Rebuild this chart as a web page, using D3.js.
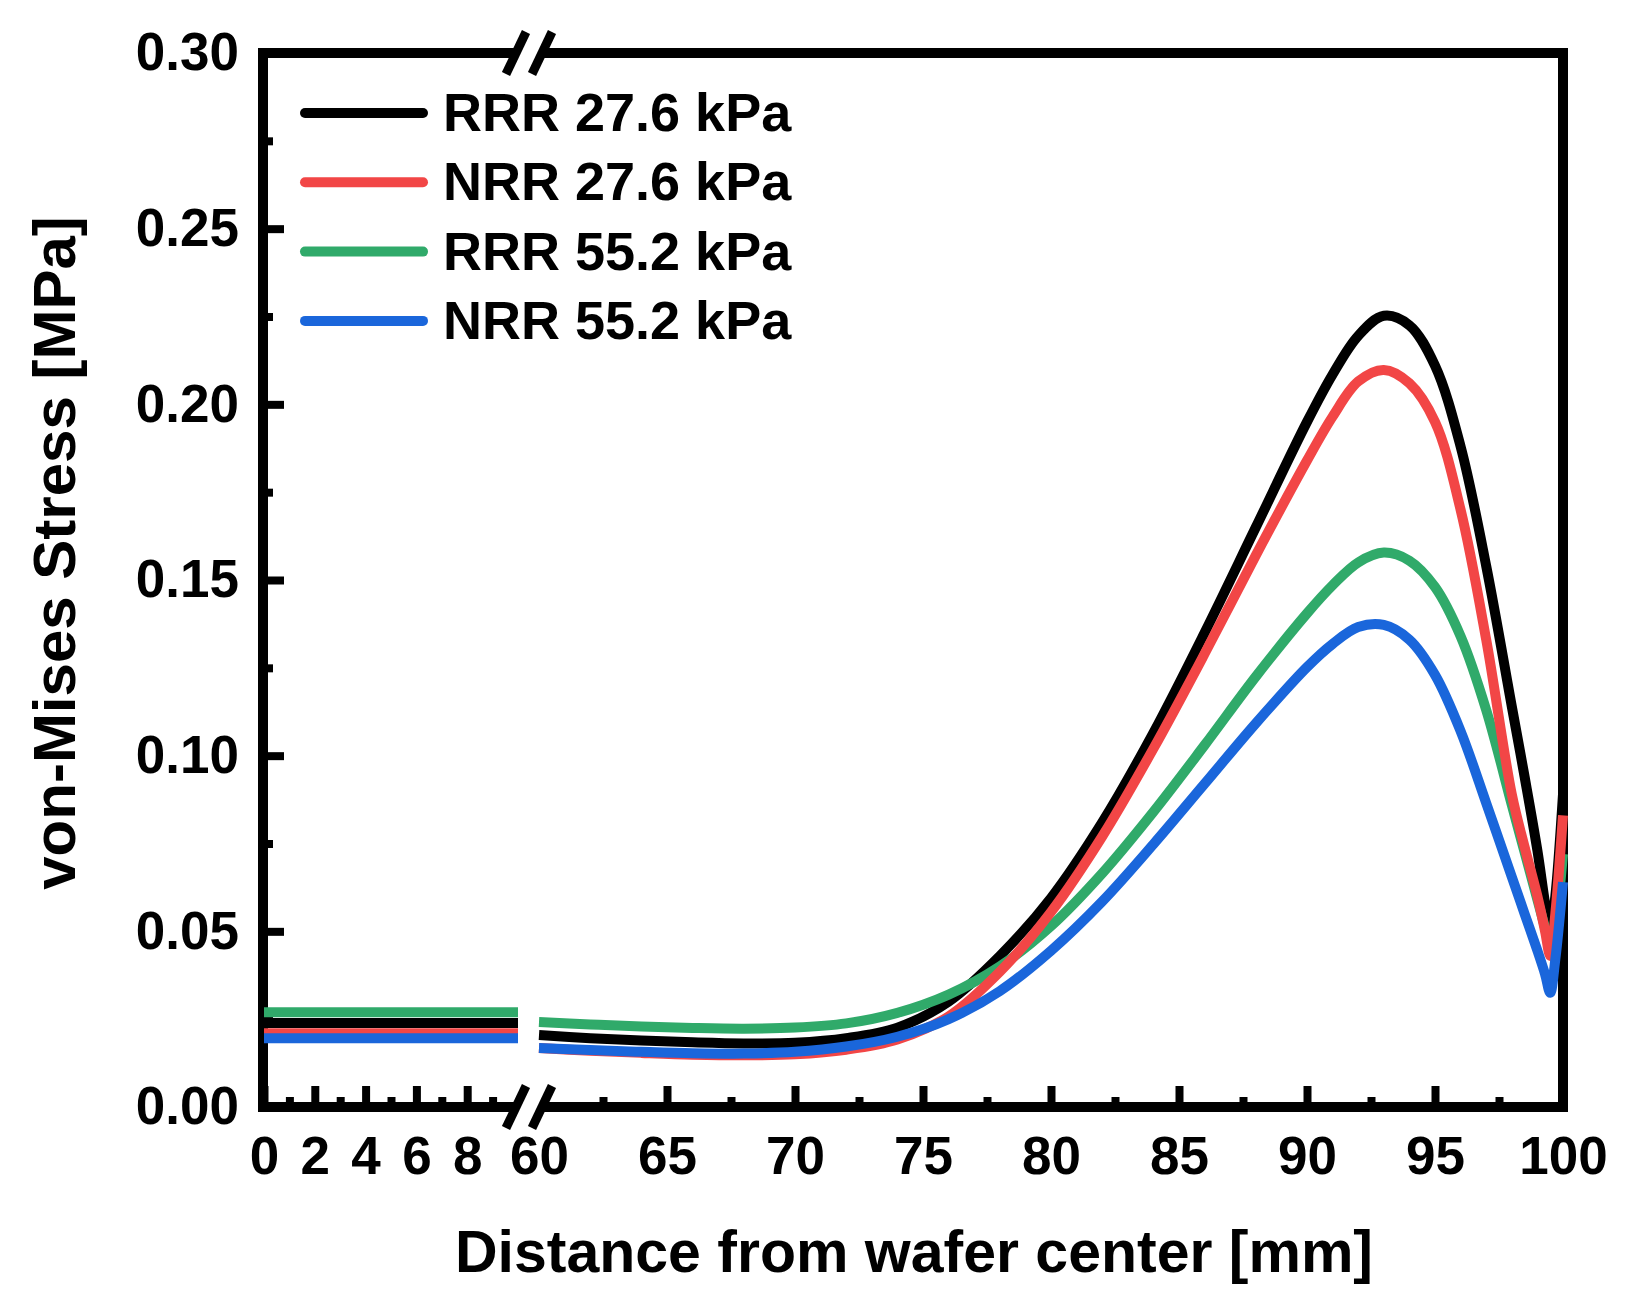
<!DOCTYPE html>
<html>
<head>
<meta charset="utf-8">
<script src="https://cdn.jsdelivr.net/npm/d3@7"></script>
<style>
  body { margin: 0; background: #fff; }
  text { font-family: "Liberation Sans", Arial, sans-serif; font-weight: bold; fill: #000; }
</style>
</head>
<body>
<div id="chart"></div>
<script>
// series names (legend order) and colours
var seriesNames = ["RRR 27.6 kPa", "NRR 27.6 kPa", "RRR 55.2 kPa", "NRR 55.2 kPa"];
var seriesColors = ["#000000", "#f24646", "#30aa6a", "#1a66db"];

// left piece of the broken x axis (0 - 10 mm)
var xLeft = [0, 2, 4, 6, 8, 10];
var rrr276Left = [0.0239, 0.0239, 0.0239, 0.0239, 0.0239, 0.0239];
var nrr276Left = [0.0210, 0.0210, 0.0210, 0.0210, 0.0210, 0.0210];
var rrr552Left = [0.0270, 0.0270, 0.0270, 0.0270, 0.0270, 0.0270];
var nrr552Left = [0.0196, 0.0196, 0.0196, 0.0196, 0.0196, 0.0196];

// right piece of the broken x axis (60 - 100 mm)
var xRight = [60, 62, 64, 66, 68, 70, 72, 74, 76, 78, 80, 82, 84, 86, 88, 90, 91, 92, 93, 94, 95, 96, 97, 98, 98.5, 99, 99.3, 99.5, 99.7, 100];
var rrr276Right = [0.0205, 0.0196, 0.0189, 0.0184, 0.0181, 0.0183, 0.0196, 0.0226, 0.0300, 0.0430, 0.0595, 0.0810, 0.1065, 0.1350, 0.1650, 0.1950, 0.2085, 0.2195, 0.2252, 0.2225, 0.2110, 0.1880, 0.1540, 0.1140, 0.0940, 0.0730, 0.0580, 0.0500, 0.0600, 0.0890];
var nrr276Right = [0.0168, 0.0160, 0.0154, 0.0149, 0.0147, 0.0150, 0.0163, 0.0192, 0.0258, 0.0385, 0.0555, 0.0770, 0.1020, 0.1290, 0.1570, 0.1840, 0.1965, 0.2065, 0.2098, 0.2060, 0.1950, 0.1700, 0.1330, 0.0890, 0.0740, 0.0600, 0.0500, 0.0430, 0.0550, 0.0830];
var rrr552Right = [0.0242, 0.0235, 0.0229, 0.0225, 0.0223, 0.0226, 0.0238, 0.0268, 0.0320, 0.0400, 0.0515, 0.0665, 0.0840, 0.1030, 0.1225, 0.1405, 0.1485, 0.1550, 0.1578, 0.1555, 0.1480, 0.1340, 0.1130, 0.0860, 0.0725, 0.0590, 0.0510, 0.0460, 0.0520, 0.0720];
var nrr552Right = [0.0168, 0.0162, 0.0157, 0.0153, 0.0152, 0.0157, 0.0172, 0.0200, 0.0250, 0.0330, 0.0445, 0.0585, 0.0748, 0.0920, 0.1092, 0.1252, 0.1318, 0.1366, 0.1372, 0.1330, 0.1230, 0.1070, 0.0865, 0.0655, 0.0550, 0.0445, 0.0378, 0.0325, 0.0420, 0.0640];

// tick labels
var xTicksLeft = [0, 2, 4, 6, 8];
var xMinorLeft = [1, 3, 5, 7, 9];
var xTicksRight = [60, 65, 70, 75, 80, 85, 90, 95, 100];
var xMinorRight = [62.5, 67.5, 72.5, 77.5, 82.5, 87.5, 92.5, 97.5];
var yTicks = [0, 0.05, 0.10, 0.15, 0.20, 0.25, 0.30];
var yMinor = [0.025, 0.075, 0.125, 0.175, 0.225, 0.275];

function init() {
  const W = 1635, H = 1313;

  const svg = d3.select("#chart").append("svg")
    .attr("width", W).attr("height", H)
    .style("display", "block");

  svg.append("rect").attr("width", W).attr("height", H).attr("fill", "#fff");

  const xs1 = d3.scaleLinear().domain([0, 10]).range([264, 518]);
  const xs2 = d3.scaleLinear().domain([60, 100]).range([539, 1563]);
  const ys = d3.scaleLinear().domain([0, 0.3]).range([1107, 53]);

  const left = xs1(0) - 1, right = xs2(100);
  const top = ys(0.3), bottom = ys(0);
  const breakA = 516, breakB = 542;
  const frameW = 10;

  // frame (with gaps at the axis break)
  const frame = svg.append("g").attr("stroke", "#000").attr("stroke-width", frameW).attr("fill", "none");
  frame.append("line").attr("x1", left).attr("x2", left).attr("y1", top - frameW / 2).attr("y2", bottom + frameW / 2);
  frame.append("line").attr("x1", right).attr("x2", right).attr("y1", top - frameW / 2).attr("y2", bottom + frameW / 2);
  [top, bottom].forEach(function(y) {
    frame.append("line").attr("x1", left).attr("x2", breakA).attr("y1", y).attr("y2", y);
    frame.append("line").attr("x1", breakB).attr("x2", right).attr("y1", y).attr("y2", y);
    [breakA, breakB].forEach(function(cx) {
      frame.append("line")
        .attr("x1", cx - 10).attr("y1", y + 21)
        .attr("x2", cx + 10).attr("y2", y - 21)
        .attr("stroke-width", 9);
    });
  });

  // axes
  function styleAxis(g, size) {
    g.select(".domain").remove();
    g.selectAll(".tick line").attr("stroke", "#000").attr("stroke-width", 8);
    g.selectAll(".tick text")
      .attr("font-size", size)
      .attr("font-family", "'Liberation Sans', Arial, sans-serif")
      .attr("font-weight", "bold")
      .attr("fill", "#000");
  }

  svg.append("g")
    .attr("transform", "translate(0," + bottom + ")")
    .call(d3.axisBottom(xs1).tickValues(xTicksLeft).tickSize(-21).tickPadding(29).tickFormat(d3.format("d")))
    .call(styleAxis, 53);
  svg.append("g")
    .attr("transform", "translate(0," + bottom + ")")
    .call(d3.axisBottom(xs1).tickValues(xMinorLeft).tickSize(-10).tickFormat(""))
    .call(styleAxis, 53);
  const xr = svg.append("g")
    .attr("transform", "translate(0," + bottom + ")")
    .call(d3.axisBottom(xs2).tickValues(xTicksRight).tickSize(-21).tickPadding(29).tickFormat(d3.format("d")))
    .call(styleAxis, 53);
  xr.selectAll(".tick").filter(function(d) { return d === 60; }).select("line").remove();
  svg.append("g")
    .attr("transform", "translate(0," + bottom + ")")
    .call(d3.axisBottom(xs2).tickValues(xMinorRight).tickSize(-10).tickFormat(""))
    .call(styleAxis, 53);

  svg.append("g")
    .attr("transform", "translate(" + left + ",0)")
    .call(d3.axisLeft(ys).tickValues(yTicks).tickSize(-21).tickPadding(24).tickFormat(d3.format(".2f")))
    .call(styleAxis, 53);
  svg.append("g")
    .attr("transform", "translate(" + left + ",0)")
    .call(d3.axisLeft(ys).tickValues(yMinor).tickSize(-10).tickFormat(""))
    .call(styleAxis, 53);

  // curves
  const leftSets = [rrr276Left, nrr276Left, rrr552Left, nrr552Left];
  const rightSets = [rrr276Right, nrr276Right, rrr552Right, nrr552Right];
  const drawOrder = [0, 2, 1, 3];

  const line1 = d3.line().x(function(d) { return xs1(d[0]); }).y(function(d) { return ys(d[1]); });
  const line2 = d3.line().curve(d3.curveCatmullRom.alpha(0.5))
    .x(function(d) { return xs2(d[0]); }).y(function(d) { return ys(d[1]); });

  const curves = svg.append("g").attr("fill", "none").attr("stroke-width", 10);
  drawOrder.forEach(function(i) {
    curves.append("path")
      .datum(xLeft.map(function(x, k) { return [x, leftSets[i][k]]; }))
      .attr("d", line1)
      .attr("stroke", seriesColors[i]);
  });
  drawOrder.forEach(function(i) {
    curves.append("path")
      .datum(xRight.map(function(x, k) { return [x, rightSets[i][k]]; }))
      .attr("d", line2)
      .attr("stroke", seriesColors[i])
      .attr("stroke-linejoin", "round");
  });

  // legend
  const legend = svg.append("g");
  seriesNames.forEach(function(name, i) {
    const base = 131 + i * 69.3;
    legend.append("line")
      .attr("x1", 305).attr("x2", 423)
      .attr("y1", base - 18).attr("y2", base - 18)
      .attr("stroke", seriesColors[i])
      .attr("stroke-width", 10)
      .attr("stroke-linecap", "round");
    legend.append("text")
      .attr("x", 443).attr("y", base)
      .attr("font-size", 54)
      .text(name);
  });

  // axis titles
  svg.append("text")
    .attr("x", 914).attr("y", 1272)
    .attr("text-anchor", "middle")
    .attr("font-size", 59)
    .text("Distance from wafer center [mm]");

  svg.append("text")
    .attr("transform", "translate(75,553) rotate(-90)")
    .attr("text-anchor", "middle")
    .attr("font-size", 60)
    .text("von-Mises Stress [MPa]");
}

window.onload = init;
</script>
</body>
</html>
